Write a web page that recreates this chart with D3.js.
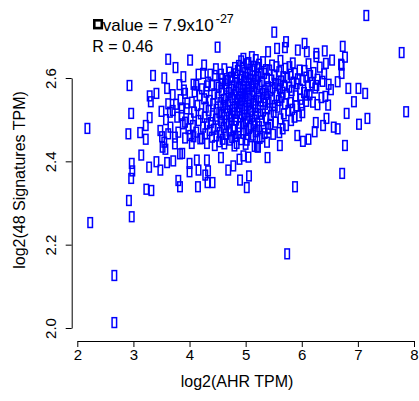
<!DOCTYPE html>
<html lang="en">
<head>
<meta charset="UTF-8">
<title>AHR vs signatures</title>
<style>
  body { margin: 0; background: #fff; }
  text { font-family: "Liberation Sans", Arial, sans-serif; }
</style>
</head>
<body>
<script src="https://d3js.org/d3.v7.min.js"></script>
<script>
// ticks
const xTicks = [2, 3, 4, 5, 6, 7, 8];
const yTicks = [2.0, 2.2, 2.4, 2.6];

// stats shown top-left
const pMantissa = "7.9";
const pExponent = "-27";
const rValue = "0.46";

// [log2(AHR TPM), log2(48 Signatures TPM)] - scattered points
const outerPoints = [
  [2.18,2.479],[2.23,2.253],[2.66,2.126],[2.66,2.013],[2.93,2.582],[3.35,2.606],[3.55,2.600],
  [3.29,2.557],[3.41,2.563],[3.31,2.543],[2.96,2.515],[3.29,2.505],[3.22,2.486],[2.91,2.466],
  [3.12,2.469],[3.22,2.453],[3.48,2.474],[3.51,2.459],[3.52,2.434],[3.14,2.415],[2.97,2.395],
  [3.41,2.399],[3.28,2.386],[3.48,2.379],[2.98,2.377],[2.96,2.359],[3.23,2.333],[3.32,2.330],
  [2.92,2.306],[2.97,2.267],
  [3.62,2.466],[3.74,2.458],[3.57,2.429],[3.83,2.418],[3.87,2.419],[3.60,2.397],[3.71,2.401],
  [4.00,2.395],[4.00,2.375],[4.13,2.403],[4.16,2.379],[4.31,2.403],[4.33,2.377],[4.56,2.409],
  [4.69,2.379],[4.78,2.389],[4.89,2.405],[4.96,2.413],[5.05,2.410],[5.20,2.435],[3.80,2.354],
  [3.83,2.339],[4.15,2.339],[4.28,2.367],[4.32,2.349],[4.41,2.349],[4.90,2.355],[5.02,2.337],
  [5.06,2.365],[5.88,2.339],[6.72,2.371],[5.74,2.178],
  [4.04,2.443],[4.07,2.459],[4.22,2.455],[4.31,2.443],[4.53,2.447],[4.72,2.451],[4.84,2.443],
  [5.02,2.451],
  [6.80,2.515],[6.44,2.503],[6.25,2.493],[6.38,2.486],[6.57,2.482],[6.64,2.478],[6.23,2.471],
  [5.92,2.462],[6.12,2.453],[6.02,2.448],[6.77,2.438],[5.61,2.438],[5.38,2.446],[5.22,2.434],
  [5.39,2.409],[5.60,2.469],[5.40,2.478],
  [7.15,2.750],[6.73,2.676],[7.78,2.661],[6.71,2.631],[6.71,2.611],[6.83,2.575],[7.01,2.575],
  [7.13,2.563],[6.93,2.543],[7.86,2.519],[7.17,2.503],[7.02,2.489],[6.77,2.650],
  [5.51,2.710],[4.50,2.674],[5.72,2.687],[6.05,2.683],[6.41,2.665],[5.93,2.667],[5.56,2.671],
  [5.70,2.673],[5.40,2.663],[5.11,2.651],[4.96,2.647],[6.09,2.663],[6.26,2.659],[6.26,2.651],
  [3.62,2.645],[4.01,2.643],[3.75,2.625],[4.26,2.631],[3.89,2.603],[4.16,2.609],[4.24,2.611],
  [4.37,2.609],[4.47,2.622],[4.56,2.609],[4.81,2.625],[4.73,2.601],[4.07,2.585],[4.12,2.583],
  [3.90,2.571],[3.92,2.563],[4.09,2.567],[4.31,2.581],[4.49,2.583],[4.57,2.587],[4.66,2.575],
  [3.76,2.537],[3.65,2.518],[6.54,2.643],[6.70,2.633],[6.43,2.635],[6.64,2.591],[6.48,2.585],
  [6.26,2.582],[6.09,2.559],[6.35,2.553],[6.20,2.542],[6.47,2.535],[6.00,2.535],
  [3.62,2.538],[3.70,2.522],[3.78,2.506],[3.84,2.548],[3.88,2.490],[3.58,2.500],[3.66,2.482],
  [3.80,2.470],[3.92,2.456],[3.74,2.442],[3.55,2.446],[3.86,2.528],[3.96,2.540],[3.70,2.560],
  [3.60,2.575],[3.82,2.584],[3.50,2.520]
];

// dense core of the cloud
const corePoints = [
  [4.92,2.641],[5.05,2.637],[5.18,2.644],[5.31,2.639],[5.62,2.642],[5.84,2.636],
  [4.88,2.630],[5.02,2.634],[5.15,2.628],[5.24,2.633],[5.47,2.631],[5.78,2.627],[6.12,2.634],
  [4.62,2.622],[4.95,2.626],[5.08,2.621],[5.21,2.625],[5.36,2.620],[5.55,2.627],[5.71,2.623],[5.96,2.619],[6.32,2.626],
  [4.71,2.614],[4.86,2.618],[4.99,2.613],[5.12,2.617],[5.27,2.612],[5.42,2.619],[5.60,2.615],[5.88,2.611],[6.05,2.618],[6.21,2.613],
  [4.45,2.606],[4.82,2.610],[4.93,2.604],[5.04,2.609],[5.16,2.605],[5.33,2.611],[5.51,2.607],[5.67,2.603],[5.80,2.609],[6.15,2.606],[6.40,2.610],
  [4.58,2.598],[4.76,2.602],[4.90,2.597],[5.01,2.601],[5.09,2.596],[5.22,2.603],[5.38,2.599],[5.46,2.595],[5.74,2.601],[5.93,2.598],[6.08,2.602],[6.28,2.597],
  [4.33,2.590],[4.68,2.594],[4.84,2.589],[4.97,2.593],[5.06,2.588],[5.19,2.595],[5.29,2.591],[5.52,2.587],[5.63,2.593],[5.85,2.590],[6.02,2.594],[6.18,2.589],[6.37,2.592],
  [4.40,2.582],[4.63,2.586],[4.79,2.581],[4.91,2.585],[5.03,2.580],[5.13,2.587],[5.25,2.583],[5.40,2.579],[5.58,2.585],[5.69,2.582],[5.91,2.586],[6.11,2.581],
  [4.22,2.574],[4.52,2.578],[4.74,2.573],[4.87,2.577],[4.98,2.572],[5.10,2.579],[5.20,2.575],[5.34,2.571],[5.48,2.577],[5.61,2.574],[5.78,2.578],[5.97,2.573],[6.24,2.576],[6.52,2.572],
  [4.30,2.566],[4.57,2.570],[4.70,2.565],[4.83,2.569],[4.94,2.564],[5.04,2.571],[5.15,2.567],[5.30,2.563],[5.44,2.569],[5.66,2.566],[5.82,2.570],[6.04,2.565],
  [4.18,2.558],[4.44,2.562],[4.65,2.557],[4.80,2.561],[4.90,2.556],[5.00,2.563],[5.12,2.559],[5.23,2.555],[5.37,2.561],[5.55,2.558],[5.73,2.562],[5.89,2.557],[6.14,2.560],[6.42,2.556],
  [4.26,2.550],[4.50,2.554],[4.61,2.549],[4.76,2.553],[4.86,2.548],[4.96,2.555],[5.07,2.551],[5.18,2.547],[5.32,2.553],[5.47,2.550],[5.64,2.554],[5.98,2.549],
  [4.04,2.542],[4.36,2.546],[4.55,2.541],[4.72,2.545],[4.84,2.540],[4.93,2.547],[5.02,2.543],[5.14,2.539],[5.27,2.545],[5.41,2.542],[5.59,2.546],[5.80,2.541],[6.08,2.544],
  [4.14,2.534],[4.42,2.538],[4.60,2.533],[4.69,2.537],[4.81,2.532],[4.91,2.539],[5.05,2.535],[5.17,2.531],[5.35,2.537],[5.52,2.534],[5.70,2.538],[5.90,2.533],[6.28,2.536],
  [3.95,2.526],[4.29,2.530],[4.48,2.525],[4.64,2.529],[4.77,2.524],[4.88,2.531],[4.99,2.527],[5.10,2.523],[5.22,2.529],[5.39,2.526],[5.57,2.530],[5.83,2.525],
  [4.08,2.518],[4.34,2.522],[4.53,2.517],[4.67,2.521],[4.79,2.516],[4.94,2.523],[5.08,2.519],[5.19,2.515],[5.31,2.521],[5.50,2.518],[5.76,2.522],[6.01,2.517],
  [3.86,2.510],[4.20,2.514],[4.41,2.509],[4.58,2.513],[4.73,2.508],[4.85,2.515],[4.97,2.511],[5.12,2.507],[5.26,2.513],[5.45,2.510],[5.68,2.514],[5.95,2.509],
  [4.02,2.502],[4.27,2.506],[4.47,2.501],[4.62,2.505],[4.75,2.500],[4.90,2.507],[5.03,2.503],[5.16,2.499],[5.36,2.505],[5.62,2.502],[5.87,2.506],
  [3.92,2.494],[4.16,2.498],[4.38,2.493],[4.56,2.497],[4.70,2.492],[4.83,2.499],[5.00,2.495],[5.14,2.491],[5.29,2.497],[5.53,2.494],[5.81,2.498],
  [4.06,2.486],[4.31,2.490],[4.50,2.485],[4.66,2.489],[4.80,2.484],[4.95,2.491],[5.09,2.487],[5.24,2.483],[5.44,2.489],[5.72,2.486],
  [3.98,2.478],[4.24,2.482],[4.43,2.477],[4.61,2.481],[4.78,2.476],[4.89,2.483],[5.06,2.479],[5.21,2.475],[5.40,2.481],[5.66,2.478],
  [4.12,2.470],[4.36,2.474],[4.54,2.469],[4.71,2.473],[4.87,2.468],[5.01,2.475],[5.18,2.471],[5.34,2.467],
  [4.01,2.462],[4.28,2.466],[4.48,2.461],[4.65,2.465],[4.82,2.460],[4.96,2.467],[5.13,2.463],[5.29,2.459],[5.49,2.465],
  [4.19,2.454],[4.40,2.458],[4.59,2.453],[4.76,2.457],[4.92,2.452],[5.10,2.459],[5.25,2.455],
  [4.45,2.438],[4.62,2.442],[4.80,2.437],[5.00,2.441],[5.16,2.436]
];

const w = 419, h = 401;
const svg = d3.select("body").append("svg")
  .attr("width", w)
  .attr("height", h)
  .style("display", "block");

const x = d3.scaleLinear().domain([2, 8]).range([77.3, 414]);
const y = d3.scaleLinear().domain([2.0, 2.6]).range([328, 78]);

// points: open blue rectangles (R pch-like)
const pts = outerPoints.concat(corePoints);
const bw = 4.5, bh = 9.8;
svg.append("g").selectAll("rect").data(pts).enter().append("rect")
  .attr("x", d => x(d[0]) - bw / 2)
  .attr("y", d => y(d[1]) - bh / 2)
  .attr("width", bw)
  .attr("height", bh)
  .attr("fill", "none")
  .attr("stroke", "#0000ff")
  .attr("stroke-width", 1.5);

// x axis
const gx = svg.append("g")
  .attr("transform", "translate(0,341)")
  .call(d3.axisBottom(x).tickValues(xTicks).tickFormat(d3.format("d")).tickSize(6).tickSizeOuter(0).tickPadding(2));
gx.selectAll("text").attr("font-size", 15).attr("fill", "#000");

// y axis, labels turned like R does
const gy = svg.append("g")
  .attr("transform", "translate(71.7,0)")
  .call(d3.axisLeft(y).tickValues(yTicks).tickFormat(d3.format(".1f")).tickSize(6).tickSizeOuter(0));
gy.selectAll("text")
  .attr("font-size", 15)
  .attr("fill", "#000")
  .attr("x", null).attr("dy", null)
  .attr("text-anchor", "middle")
  .attr("dominant-baseline", "central")
  .attr("transform", "translate(-21.5,0) rotate(-90)");
svg.selectAll(".domain, .tick line").attr("stroke", "#000").attr("stroke-width", 1);
svg.selectAll(".tick text").attr("font-family", "'Liberation Sans', Arial, sans-serif");

// titles
svg.append("text")
  .attr("x", 237).attr("y", 381)
  .attr("text-anchor", "middle").attr("dominant-baseline", "central")
  .attr("font-size", 16)
  .text("log2(AHR TPM)");
svg.append("text")
  .attr("transform", "translate(19,180) rotate(-90)")
  .attr("text-anchor", "middle").attr("dominant-baseline", "central")
  .attr("font-size", 16)
  .text("log2(48 Signatures TPM)");

// stats: the "p" came out as a missing-glyph box in the original
svg.append("rect")
  .attr("x", 94.3).attr("y", 20.3).attr("width", 7.5).attr("height", 7.8)
  .attr("fill", "none").attr("stroke", "#000").attr("stroke-width", 2.6);
const pv = svg.append("text").attr("x", 102.7).attr("y", 30.8).attr("font-size", 17);
pv.append("tspan").text("value = " + pMantissa + "x10");
pv.append("tspan").attr("dx", 2).attr("dy", -8).attr("font-size", 12.5).text(pExponent);
svg.append("text").attr("x", 92.3).attr("y", 52.3).attr("font-size", 16)
  .text("R = " + rValue);
</script>
</body>
</html>
